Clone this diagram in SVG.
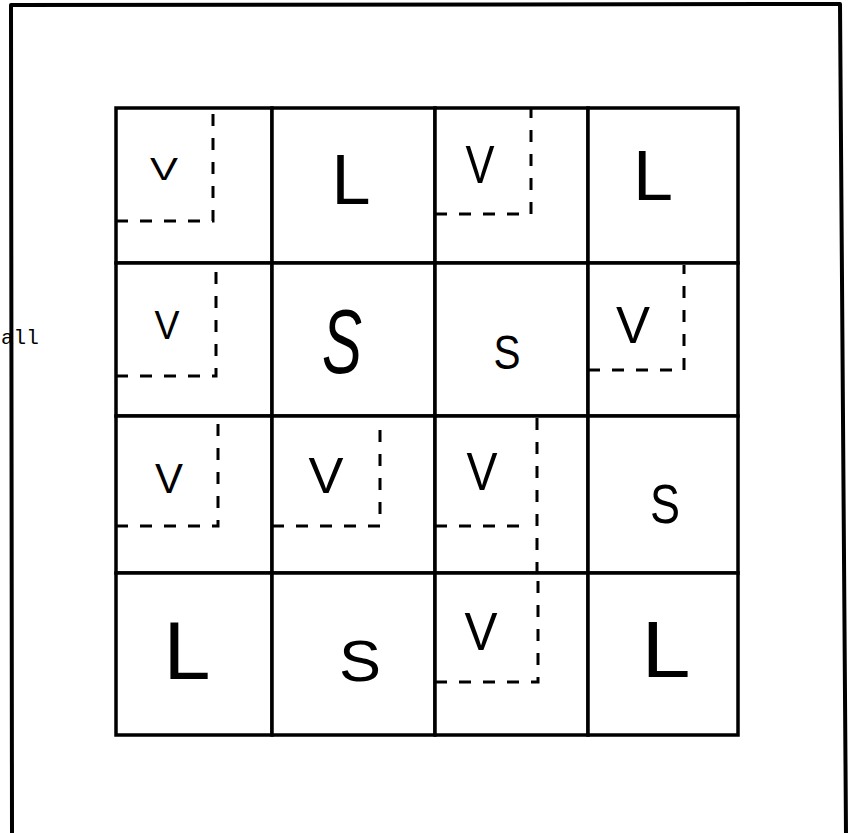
<svg xmlns="http://www.w3.org/2000/svg" width="851" height="833" viewBox="0 0 851 833">
<style>
.frame{fill:none;stroke:#000;stroke-width:4;stroke-linecap:round;stroke-linejoin:round}
.cell{fill:#fff;stroke:#000;stroke-width:3.5}
.dash{fill:none;stroke:#000;stroke-width:3;stroke-dasharray:12 12}
.lbl{font-family:"Liberation Sans",Arial,sans-serif;fill:#000;text-anchor:middle}
.side{font-family:"Liberation Mono","Courier New",monospace;font-size:21px;fill:#000}
</style>
<rect width="851" height="833" fill="#fff"/>
<g id="frame">
<path class="frame" d="M12,833 L11,5 L840,4 L846,833"/>
<text class="side" x="1" y="344">all</text>
</g>
<g id="grid">
<g id="r0c0"><rect class="cell" x="116" y="108" width="156" height="155"/><path class="dash" d="M116,221 H213 V110"/><text class="lbl" x="164" y="180" font-size="32" textLength="28" lengthAdjust="spacingAndGlyphs">V</text></g>
<g id="r0c1"><rect class="cell" x="272" y="108" width="163" height="155"/><text class="lbl" x="351" y="204" font-size="70" textLength="39" lengthAdjust="spacingAndGlyphs">L</text></g>
<g id="r0c2"><rect class="cell" x="435" y="108" width="153" height="155"/><path class="dash" d="M435,214 H531 V109"/><text class="lbl" x="480" y="183" font-size="54" textLength="29" lengthAdjust="spacingAndGlyphs">V</text></g>
<g id="r0c3"><rect class="cell" x="588" y="108" width="150" height="155"/><text class="lbl" x="653" y="200" font-size="70" textLength="40" lengthAdjust="spacingAndGlyphs">L</text></g>

<g id="r1c0"><rect class="cell" x="116" y="263" width="156" height="153"/><path class="dash" d="M116,376 H216 V265"/><text class="lbl" x="167" y="339" font-size="40" textLength="25" lengthAdjust="spacingAndGlyphs">V</text></g>
<g id="r1c1"><rect class="cell" x="272" y="263" width="163" height="153"/><text class="lbl" x="342" y="373" font-size="90" font-style="italic" textLength="40" lengthAdjust="spacingAndGlyphs">S</text></g>
<g id="r1c2"><rect class="cell" x="435" y="263" width="153" height="153"/><text class="lbl" x="507" y="369" font-size="49" textLength="27" lengthAdjust="spacingAndGlyphs">S</text></g>
<g id="r1c3"><rect class="cell" x="588" y="263" width="150" height="153"/><path class="dash" d="M588,370 H684 V265"/><text class="lbl" x="633" y="343" font-size="52" textLength="34" lengthAdjust="spacingAndGlyphs">V</text></g>

<g id="r2c0"><rect class="cell" x="116" y="416" width="156" height="157"/><path class="dash" d="M116,526 H218 V418"/><text class="lbl" x="169" y="493" font-size="43" textLength="28" lengthAdjust="spacingAndGlyphs">V</text></g>
<g id="r2c1"><rect class="cell" x="272" y="416" width="163" height="157"/><path class="dash" d="M272,526 H380 V418"/><text class="lbl" x="326" y="493" font-size="50" textLength="35" lengthAdjust="spacingAndGlyphs">V</text></g>
<g id="r2c2"><rect class="cell" x="435" y="416" width="153" height="157"/><path class="dash" d="M435,526 H527 M537,418 V573"/><text class="lbl" x="482" y="490" font-size="53" textLength="31" lengthAdjust="spacingAndGlyphs">V</text></g>
<g id="r2c3"><rect class="cell" x="588" y="416" width="150" height="157"/><text class="lbl" x="665" y="523" font-size="56" textLength="30" lengthAdjust="spacingAndGlyphs">S</text></g>

<g id="r3c0"><rect class="cell" x="116" y="573" width="156" height="162"/><text class="lbl" x="187" y="679" font-size="81" textLength="47" lengthAdjust="spacingAndGlyphs">L</text></g>
<g id="r3c1"><rect class="cell" x="272" y="573" width="163" height="162"/><text class="lbl" x="360" y="681" font-size="57" textLength="42" lengthAdjust="spacingAndGlyphs">S</text></g>
<g id="r3c2"><rect class="cell" x="435" y="573" width="153" height="162"/><path class="dash" d="M435,682 H538 V573"/><text class="lbl" x="481" y="650" font-size="53" textLength="33" lengthAdjust="spacingAndGlyphs">V</text></g>
<g id="r3c3"><rect class="cell" x="588" y="573" width="150" height="162"/><text class="lbl" x="666" y="677" font-size="80" textLength="49" lengthAdjust="spacingAndGlyphs">L</text></g>
</g>
</svg>
